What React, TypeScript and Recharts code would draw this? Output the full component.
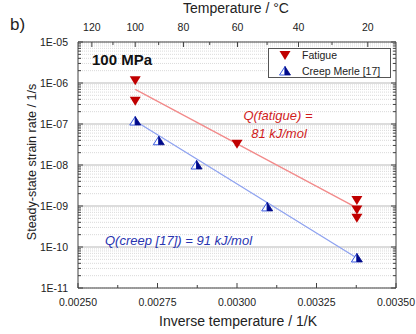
import {
  CartesianGrid,
  Legend,
  ReferenceLine,
  Scatter,
  ScatterChart,
  XAxis,
  YAxis,
} from "recharts";

type Pt = { x: number; y: number };

// values (x = 1/T in 1/K, y = strain rate in 1/s)
const fatigueX = [0.00268, 0.00268, 0.003, 0.003377, 0.003377, 0.003377];
const fatigueY = [1.14e-6, 3.6e-7, 3.2e-8, 1.36e-9, 8.0e-10, 5.0e-10];
const creepX = [0.00268, 0.002754, 0.002873, 0.003095, 0.003377];
const creepY = [1.18e-7, 3.9e-8, 1.0e-8, 9.5e-10, 5.4e-11];

// Arrhenius fit lines (end points)
const fatigueFitX = [0.00268, 0.003377];
const fatigueFitY = [7.0e-7, 9.0e-10];
const creepFitX = [0.00268, 0.003377];
const creepFitY = [1.18e-7, 5.4e-11];

// axis ticks
const xMajorTicks = [0.0025, 0.00275, 0.003, 0.00325, 0.0035];
const xMinorTicks = [0.002625, 0.002875, 0.003125, 0.003375];
const tempMajor = [120, 100, 80, 60, 40, 20];
const tempMinor = [110, 90, 70, 50, 30];
const yMajorTicks = [1e-11, 1e-10, 1e-9, 1e-8, 1e-7, 1e-6, 1e-5];
const yMinorSteps = [2, 3, 4, 5, 6, 7, 8, 9];

const legendLabels = ["Fatigue", "Creep Merle [17]"];

const zip = (xs: number[], ys: number[]): Pt[] => xs.map((x, i) => ({ x, y: ys[i] }));

const fatigueData = zip(fatigueX, fatigueY);
const creepData = zip(creepX, creepY);
const fatigueFit = zip(fatigueFitX, fatigueFitY);
const creepFit = zip(creepFitX, creepFitY);

const yMinorTicks = yMajorTicks.slice(0, -1).flatMap((d) => yMinorSteps.map((s) => s * d));
const yTicks = [...yMajorTicks, ...yMinorTicks].sort((a, b) => a - b);
const xTicks = [...xMajorTicks, ...xMinorTicks].sort((a, b) => a - b);
const toInv = (c: number) => 1 / (c + 273.15);
const topTicks = [...tempMajor, ...tempMinor].map(toInv).sort((a, b) => a - b);

const FONT = '"Liberation Sans", Arial, sans-serif';
const AXIS = "#404040";
const RED = "#c00000";
const NAVY = "#000a8a";
const BLUE_EDGE = "#3a5ae0";

const isMajorY = (v: number) => yMajorTicks.some((t) => Math.abs(Math.log10(t) - Math.log10(v)) < 1e-6);
const yLabel = (v: number) => {
  const e = Math.round(Math.log10(v));
  return `1E-${String(-e).padStart(2, "0")}`;
};

const FatigueMark = ({ cx, cy }: { cx: number; cy: number }) => (
  <polygon points={`${cx - 5.5},${cy - 4.5} ${cx + 5.5},${cy - 4.5} ${cx},${cy + 4.5}`} fill={RED} />
);

const CreepMark = ({ cx, cy }: { cx: number; cy: number }) => (
  <g>
    <polygon points={`${cx},${cy - 4.5} ${cx - 5.5},${cy + 4} ${cx},${cy + 4}`} fill="#fff" stroke={BLUE_EDGE} strokeWidth={1} />
    <polygon points={`${cx},${cy - 4.5} ${cx},${cy + 4} ${cx + 5.5},${cy + 4}`} fill={NAVY} stroke={NAVY} strokeWidth={0.8} />
  </g>
);

const BottomTick = (props: any) => {
  const { x, y, payload } = props;
  const major = xMajorTicks.some((t) => Math.abs(t - payload.value) < 1e-9);
  return (
    <g>
      <line x1={x} x2={x} y1={y} y2={y - (major ? 5 : 3)} stroke={AXIS} />
      {major && (
        <text x={x} y={y + 18} textAnchor="middle" fontSize={10.5} fill="#222" fontFamily={FONT}>
          {payload.value.toFixed(5)}
        </text>
      )}
    </g>
  );
};

const TopTick = (props: any) => {
  const { x, y, payload } = props;
  const c = Math.round(1 / payload.value - 273.15);
  const major = tempMajor.includes(c);
  return (
    <g>
      <line x1={x} x2={x} y1={y} y2={y + (major ? 5 : 3)} stroke={AXIS} />
      {major && (
        <text x={x} y={y - 11} textAnchor="middle" fontSize={10.5} fill="#222" fontFamily={FONT}>
          {c}
        </text>
      )}
    </g>
  );
};

const LeftTick = (props: any) => {
  const { x, y, payload } = props;
  const major = isMajorY(payload.value);
  return (
    <g>
      <line x1={x} x2={x + (major ? 5 : 3)} y1={y} y2={y} stroke={AXIS} />
      {major && (
        <text x={x - 10} y={y + 4} textAnchor="end" fontSize={10.5} fill="#222" fontFamily={FONT}>
          {yLabel(payload.value)}
        </text>
      )}
    </g>
  );
};

const RightTick = (props: any) => {
  const { x, y, payload } = props;
  const major = isMajorY(payload.value);
  return <line x1={x} x2={x - (major ? 5 : 3)} y1={y} y2={y} stroke={AXIS} />;
};

const LegendBox = () => (
  <svg width={123} height={30}>
    <rect x={0.5} y={0.5} width={122} height={29} fill="#fff" stroke="#555" />
    <FatigueMark cx={17} cy={7.5} />
    <CreepMark cx={17} cy={23} />
    <text x={34} y={11} fontSize={10.5} fill="#222" fontFamily={FONT}>
      {legendLabels[0]}
    </text>
    <text x={34} y={27} fontSize={10.5} fill="#222" fontFamily={FONT}>
      {legendLabels[1]}
    </text>
  </svg>
);

const noShape = () => <g />;

export default function App() {
  return (
    <div style={{ position: "absolute", left: 0, top: 0, width: 416, height: 334, background: "#fff", fontFamily: FONT }}>
      <ScatterChart width={416} height={334} margin={{ top: 0, right: 0, bottom: 0, left: 0 }}>
        <CartesianGrid vertical={false} stroke="#dadada" strokeDasharray="1 1" />
        <XAxis
          type="number"
          dataKey="x"
          domain={[0.0025, 0.0035]}
          ticks={xTicks}
          interval={0}
          height={46}
          allowDataOverflow
          stroke={AXIS}
          tickSize={0}
          tickMargin={0}
          tickLine={false}
          tick={<BottomTick />}
        />
        <XAxis
          xAxisId="t"
          orientation="top"
          type="number"
          dataKey="x"
          domain={[0.0025, 0.0035]}
          ticks={topTicks}
          interval={0}
          height={42}
          allowDataOverflow
          stroke={AXIS}
          tickSize={0}
          tickMargin={0}
          tickLine={false}
          tick={<TopTick />}
        />
        <YAxis
          type="number"
          dataKey="y"
          scale="log"
          domain={[1e-11, 1e-5]}
          ticks={yTicks}
          interval={0}
          width={78}
          allowDataOverflow
          stroke={AXIS}
          tickSize={0}
          tickMargin={0}
          tickLine={false}
          tick={<LeftTick />}
        />
        <YAxis
          yAxisId="r"
          orientation="right"
          type="number"
          dataKey="y"
          scale="log"
          domain={[1e-11, 1e-5]}
          ticks={yTicks}
          interval={0}
          width={20}
          allowDataOverflow
          stroke={AXIS}
          tickSize={0}
          tickMargin={0}
          tickLine={false}
          tick={<RightTick />}
        />
        {yMajorTicks.slice(1, -1).map((v) => (
          <ReferenceLine key={v} y={v} stroke="#dcdcdc" strokeWidth={2} />
        ))}
        <Scatter
          data={fatigueFit}
          xAxisId="t"
          yAxisId="r"
          line={{ stroke: "#f28a8a", strokeWidth: 1.3 }}
          shape={noShape}
          isAnimationActive={false}
        />
        <Scatter data={creepFit} line={{ stroke: "#8ea2f0", strokeWidth: 1.3 }} shape={noShape} isAnimationActive={false} />
        <Scatter data={creepData} shape={(p: any) => <CreepMark cx={p.cx} cy={p.cy} />} isAnimationActive={false} />
        <Scatter data={fatigueData} shape={(p: any) => <FatigueMark cx={p.cx} cy={p.cy} />} isAnimationActive={false} />
        <Legend
          layout="horizontal"
          verticalAlign="middle"
          align="center"
          content={<LegendBox />}
          wrapperStyle={{ left: 268, top: 48, width: 123, height: 30 }}
        />
      </ScatterChart>
      <svg width={416} height={334} style={{ position: "absolute", left: 0, top: 0, pointerEvents: "none" }}>
        <text x={10} y={30} fontSize={17} fill="#222">b)</text>
        <text x={236} y={13} fontSize={14} fill="#222" textAnchor="middle">Temperature / °C</text>
        <text x={238} y={326} fontSize={14} fill="#222" textAnchor="middle">Inverse temperature / 1/K</text>
        <text x={36} y={162} fontSize={12.5} fill="#222" textAnchor="middle" transform="rotate(-90 36 162)">
          Steady-state strain rate / 1/s
        </text>
        <text x={92} y={65} fontSize={15} fontWeight="bold" fill="#111">100 MPa</text>
        <text x={278} y={120} fontSize={13} fontStyle="italic" fill="#d01c1c" textAnchor="middle">Q(fatigue) =</text>
        <text x={279} y={138} fontSize={13} fontStyle="italic" fill="#d01c1c" textAnchor="middle">81 kJ/mol</text>
        <text x={105} y={245} fontSize={13} fontStyle="italic" fill="#2834b0">Q(creep [17]) = 91 kJ/mol</text>
      </svg>
    </div>
  );
}
